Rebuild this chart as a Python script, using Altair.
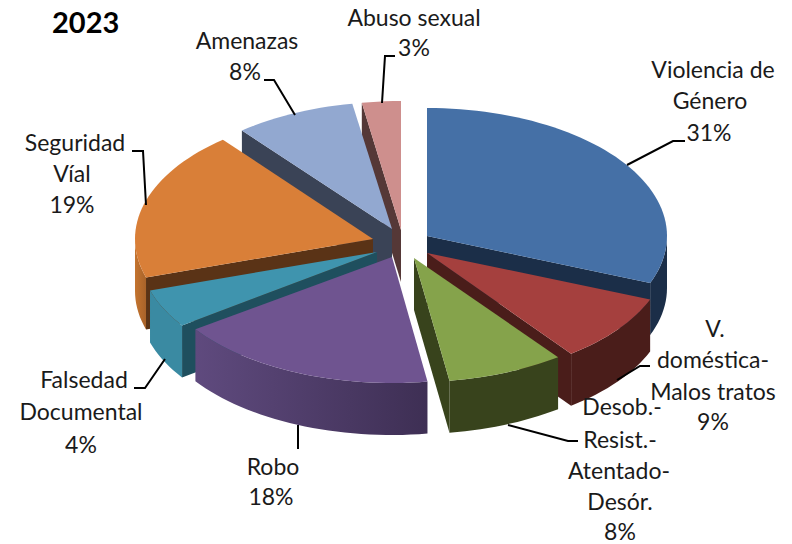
import math
import altair as alt
import pandas as pd

# ---- chart values
names = ["Violencia de Género", "V. doméstica-Malos tratos", "Desob.-Resist.-Atentado-Desór.", "Robo",
         "Falsedad Documental", "Seguridad Víal", "Amenazas", "Abuso sexual"]
shares = [31, 9, 8, 18, 4, 19, 8, 3]

# ---- styles
top_colors = ["#4570A6", "#A5403E", "#85A34B", "#6F5490", "#3F94AE", "#D97F38", "#92A8D0", "#CE8F8D"]
cut_colors = ["#1B2E48", "#4A1D1A", "#38431C", "#33284A", "#1F4F5E", "#5A3316", "#3A4356", "#553837"]
wall_from = ["#1B2E48", "#4A1D1A", "#38431C", "#5F4A7E", "#3A8AA2", "#C4742F", "#3A4356", "#553837"]
wall_to = ["#1B2E48", "#4A1D1A", "#38431C", "#3E2F54", "#3A8AA2", "#A8632A", "#3A4356", "#553837"]
font = "Lato"

# ---- layout (picture pixels): wedge apex and radii; the drawing's slight perspective shifts the edges
apex = [(427, 236), (427, 253), (414, 258), (392, 257), (377, 252), (373, 239), (392, 229), (401, 230)]
radii = [(240, 128), (240, 126), (240, 124), (240, 126), (238, 128), (238, 128), (238, 127), (235, 129)]
edge_shift = [0, 0, -0.9, -1.3, -2.6, 0.5, 0.5, 1.2, 0]
depth = 52

label_rows = [
    ("Abuso sexual", 414, 19), ("3%", 414, 49),
    ("Amenazas", 247, 42), ("8%", 245, 73),
    ("Seguridad", 75, 144), ("Víal", 72, 175), ("19%", 72, 206),
    ("Violencia de", 713, 71), ("Género", 710, 102), ("31%", 709, 134),
    ("V.", 715, 330), ("doméstica-", 713, 361), ("Malos tratos", 713, 393), ("9%", 713, 423),
    ("Desob.-", 622, 408), ("Resist.-", 620, 441), ("Atentado-", 619, 472), ("Desór.", 620, 503), ("8%", 620, 533),
    ("Falsedad", 84, 381), ("Documental", 81, 413), ("4%", 81, 446),
    ("Robo", 273, 468), ("18%", 271, 498),
]
leaders = [
    [(627, 165), (673, 141), (685, 141)],
    [(617, 380), (640, 366), (650, 366)],
    [(508, 425), (568, 441), (578, 441)],
    [(298, 425), (298, 449)],
    [(165, 359), (145, 388), (134, 388)],
    [(146, 205), (143, 151), (132, 151)],
    [(295, 115), (274, 80), (264, 80)],
    [(382, 103), (385, 56), (395, 56)],
]

x_scale = alt.Scale(domain=[8, 784], range=[0, 776])
y_scale = alt.Scale(domain=[8, 544], range=[0, 536])
X = alt.X("x:Q", scale=x_scale, axis=None)
Y = alt.Y("y:Q", scale=y_scale, axis=None)


def arc_points(i, a, b, shift=0):
    n = max(2, int(abs(b - a) / 2) + 1)
    ax, ay = apex[i]
    rx, ry = radii[i]
    pts = []
    for k in range(n + 1):
        t = math.radians(a + (b - a) * k / n)
        pts.append((ax + rx * math.sin(t), ay - ry * math.cos(t) + shift))
    return pts


def polygon(points, fill):
    pts = list(points) + [points[0]]
    df = pd.DataFrame({"x": [p[0] for p in pts], "y": [p[1] for p in pts], "o": range(len(pts))})
    return alt.Chart(df).mark_line(fill=fill, strokeWidth=0, interpolate="linear").encode(
        x=X, y=Y, order="o:Q")


layers = []
paint_order = [7, 6, 0, 5, 4, 3, 1, 2]
edges = [0]
for s in shares:
    edges.append(edges[-1] + s * 3.6)
edges = [e + n for e, n in zip(edges, edge_shift)]

for i in paint_order:
    t0, t1 = edges[i], edges[i + 1]
    ax, ay = apex[i]
    # cut faces turned to the viewer
    if 180 < t0 % 360 < 360:
        p = arc_points(i, t0, t0)[0]
        layers.append(polygon([(ax, ay), p, (p[0], p[1] + depth), (ax, ay + depth)], cut_colors[i]))
    if 0 < t1 < 180:
        p = arc_points(i, t1, t1)[0]
        layers.append(polygon([(ax, ay), p, (p[0], p[1] + depth), (ax, ay + depth)], cut_colors[i]))
    # outer wall
    w0, w1 = max(t0, 90), min(t1, 270)
    if w1 > w0:
        upper = arc_points(i, w0, w1)
        lower = arc_points(i, w1, w0, depth)
        fill = alt.LinearGradient(gradient="linear", x1=1, x2=0, y1=0, y2=0, stops=[
            alt.GradientStop(color=wall_to[i], offset=0),
            alt.GradientStop(color=wall_from[i], offset=1)])
        layers.append(polygon(upper + lower, fill))
    # top face
    layers.append(polygon([(ax, ay)] + arc_points(i, t0, t1), top_colors[i]))

# leader lines
lead_df = pd.DataFrame([
    {"x": p[0], "y": p[1], "o": k, "g": g}
    for g, line in enumerate(leaders) for k, p in enumerate(line)
])
layers.append(alt.Chart(lead_df).mark_line(color="#000000", strokeWidth=2).encode(
    x=X, y=Y, detail="g:N", order="o:Q"))

# labels
text_df = pd.DataFrame(label_rows, columns=["t", "x", "y"])
layers.append(alt.Chart(text_df).mark_text(font=font, fontSize=23, color="#1a1a1a", align="center",
                                           baseline="middle").encode(x=X, y=Y, text="t:N"))
title_df = pd.DataFrame({"t": ["2023"], "x": [52], "y": [33]})
layers.append(alt.Chart(title_df).mark_text(font=font, fontSize=29, fontWeight="bold", color="#000000",
                                            align="left", baseline="alphabetic").encode(x=X, y=Y, text="t:N"))

chart = alt.layer(*layers).properties(width=776, height=536, padding=0,
                                      autosize=alt.AutoSizeParams(type="none")
                                      ).configure_view(stroke=None)
chart.save("out.html", embed_options={"renderer": "svg", "actions": False})
